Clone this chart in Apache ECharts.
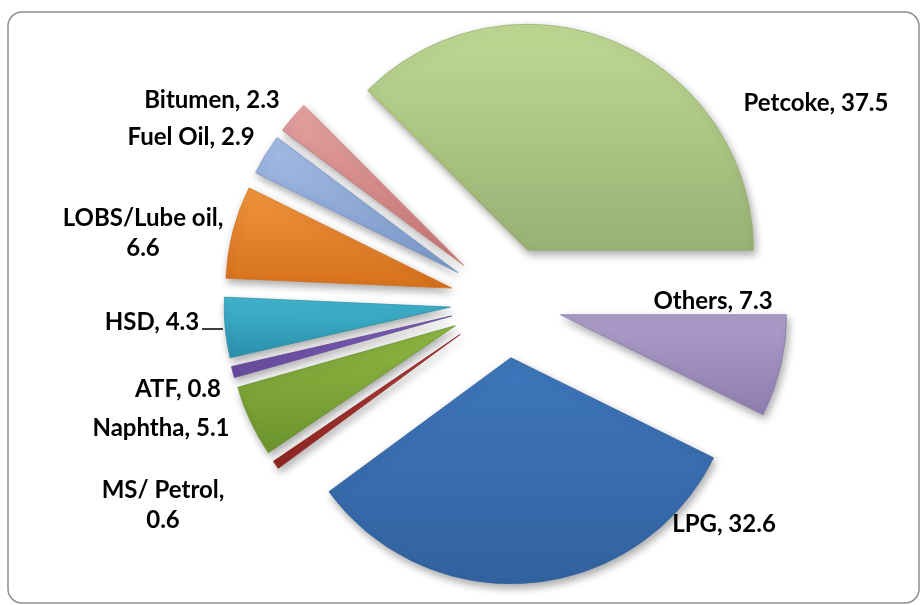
<!DOCTYPE html>
<html>
<head>
<meta charset="utf-8">
<title>Product share</title>
<script src="https://cdn.jsdelivr.net/npm/echarts@6/dist/echarts.min.js"></script>
<style>
  html, body { margin: 0; padding: 0; background: #fff; }
  #chart { width: 921px; height: 605px; }
</style>
</head>
<body>
<div id="chart"></div>
<script>
// data, clockwise from the upper left
const categories = ['Petcoke', 'Others', 'LPG', 'MS/ Petrol', 'Naphtha', 'ATF', 'HSD', 'LOBS/Lube oil', 'Fuel Oil', 'Bitumen']
const values = [37.5, 7.3, 32.6, 0.6, 5.1, 0.8, 4.3, 6.6, 2.9, 2.3]
// labels that wrap the value to a second line
const twoLineLabels = ['LOBS/Lube oil', 'MS/ Petrol']

// styles: [top colour, bottom colour]
const colors = [
  ['#bfd993', '#98b174'],
  ['#ac9dca', '#8e7eae'],
  ['#3e77bc', '#3262a0'],
  ['#b8403a', '#8e2622'],
  ['#8fb842', '#6c942e'],
  ['#8463c0', '#664a9c'],
  ['#42b6d0', '#2b90aa'],
  ['#f2953d', '#d6711c'],
  ['#a5bde6', '#7b98c9'],
  ['#e4a1a0', '#c47674']
]
// label centres, dragged by hand in the original
const labelPos = [
  [816, 103], [713, 301], [724, 524], [163, 505], [161, 428],
  [178, 389], [152, 322], [143, 233], [191, 137], [212, 100]
]

const chart = echarts.init(document.getElementById('chart'))

const CENTER = [506, 302]
const RADIUS = 226

// exploded slices (every slice selected, pulled out by selectedOffset)
const sliceData = categories.map((name, i) => ({
  name: name,
  value: values[i],
  selected: true,
  itemStyle: {
    color: new echarts.graphic.LinearGradient(0, 0, 0, 1, [
      { offset: 0, color: colors[i][0] },
      { offset: 1, color: colors[i][1] }
    ]),
    borderColor: colors[i][1]
  }
}))

// same values again, invisible, only to carry the labels
const labelData = categories.map((name, i) => ({
  name: name,
  value: values[i],
  labelLine: { show: name === 'HSD' }
}))

const option = {
  animation: false,
  graphic: [{
    type: 'rect',
    shape: { x: 8, y: 12, width: 911, height: 591, r: 14 },
    style: { fill: 'none', stroke: '#8f8f8f', lineWidth: 1.5 },
    z: -1
  }],
  series: [
    {
      type: 'pie',
      center: CENTER,
      radius: RADIUS,
      startAngle: 135,
      clockwise: true,
      selectedMode: 'multiple',
      selectedOffset: 56,
      emphasis: { disabled: true },
      itemStyle: {
        borderWidth: 0.8,
        shadowBlur: 8,
        shadowOffsetX: 2,
        shadowOffsetY: 4,
        shadowColor: 'rgba(0, 0, 0, 0.35)'
      },
      label: { show: false },
      labelLine: { show: false },
      data: sliceData
    },
    {
      type: 'pie',
      center: CENTER,
      radius: RADIUS,
      startAngle: 135,
      clockwise: true,
      silent: true,
      avoidLabelOverlap: false,
      emphasis: { disabled: true },
      itemStyle: { color: 'rgba(0,0,0,0)', borderWidth: 0 },
      label: {
        show: true,
        position: 'outside',
        color: '#000',
        fontFamily: 'Lato',
        fontWeight: 'bold',
        fontSize: 24,
        lineHeight: 30,
        align: 'center',
        formatter: (p) => twoLineLabels.includes(p.name) ? p.name + ',\n' + p.value : p.name + ', ' + p.value
      },
      labelLine: {
        lineStyle: { color: '#000', width: 1.5 }
      },
      labelLayout: (params) => {
        const p = labelPos[params.dataIndex]
        return {
          x: p[0],
          y: p[1],
          align: 'center',
          verticalAlign: 'middle',
          labelLinePoints: [[202, 329], [212, 329], [223, 329]]
        }
      },
      data: labelData
    }
  ]
}

chart.setOption(option)
</script>
</body>
</html>
